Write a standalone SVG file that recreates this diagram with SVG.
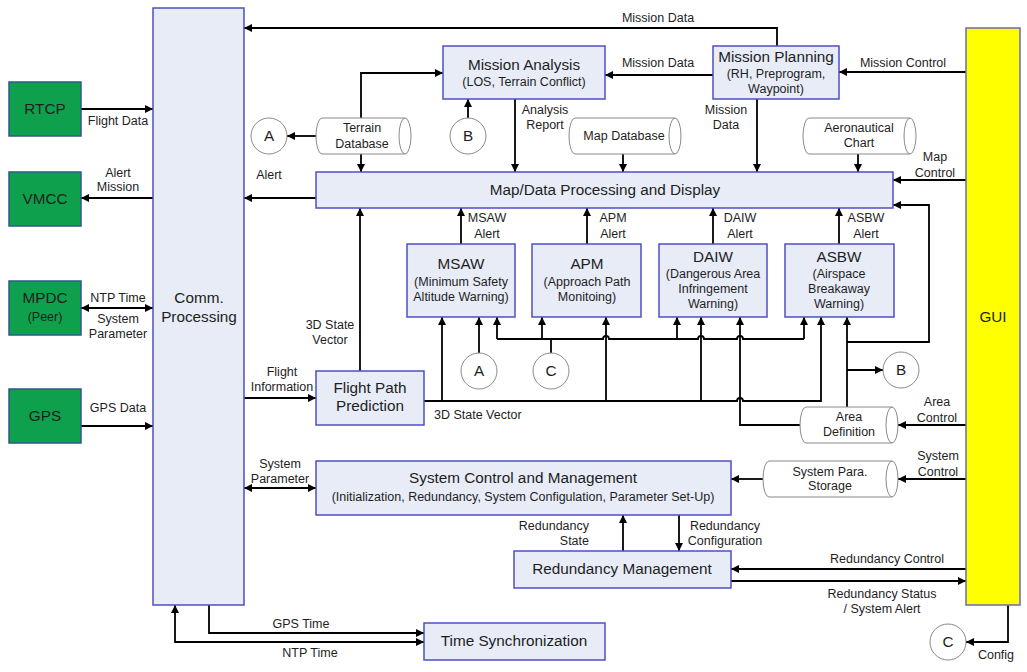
<svg xmlns="http://www.w3.org/2000/svg" width="1027" height="672" viewBox="0 0 1027 672">
<defs>
<marker id="ah" viewBox="0 0 10 10" refX="10" refY="5" markerWidth="9" markerHeight="8" orient="auto-start-reverse" markerUnits="userSpaceOnUse"><path d="M0,0 L10,5 L0,10 z" fill="#000"/></marker>
<style>
text{font-family:"Liberation Sans",Arial,sans-serif;fill:#1e1e1e;text-anchor:middle}
.lb{font-size:12.5px}
.t{font-size:15.3px}
.s{font-size:12.5px}
.box{fill:#e7ecf7;stroke:#4f4fc4;stroke-width:1.5}
.grn{fill:#0ea04c;stroke:#2d5a8c;stroke-width:1.5}
.gui{fill:#ffff00;stroke:#6b6bb0;stroke-width:1.5}
.cyl{fill:#fff;stroke:#8a8a8a;stroke-width:1}
.cir{fill:#fff;stroke:#8a8a8a;stroke-width:1}
.c path{fill:none;stroke:#000;stroke-width:1.8}
.a{marker-end:url(#ah)}
.b{marker-start:url(#ah);marker-end:url(#ah)}
</style>
</defs>
<rect width="1027" height="672" fill="#fff"/>

<g class="c" id="connectors">
<path class="a" d="M777,46 V28 H244"/>
<path class="a" d="M713,75 H605"/>
<path class="a" d="M966,72 H839"/>
<path class="a" d="M361,118 V73 H443"/>
<path class="a" d="M361,154 V172"/>
<path class="a" d="M316,136 H287"/>
<path class="a" d="M468,118 V99"/>
<path class="a" d="M515,99 V172"/>
<path class="a" d="M623,154 V172"/>
<path class="a" d="M757,99 V172"/>
<path class="a" d="M858,154 V172"/>
<path class="a" d="M966,180 H893"/>
<path class="a" d="M316,198 H244"/>
<path class="a" d="M81,109 H153"/>
<path class="a" d="M153,198 H81"/>
<path class="b" d="M81,308 H153"/>
<path class="a" d="M81,426 H153"/>
<path class="a" d="M244,398 H316"/>
<path class="a" d="M360,371 V208"/>
<path class="a" d="M461,244 V208"/>
<path class="a" d="M587,244 V208"/>
<path class="a" d="M713,244 V208"/>
<path class="a" d="M839,244 V208"/>
<path d="M497,339 H603 a3,3 0 0 1 6,0 H698 a3,3 0 0 1 6,0 H737 a3,3 0 0 1 6,0 H804"/>
<path class="a" d="M497,339 V317"/>
<path class="a" d="M542,339 V317"/>
<path class="a" d="M677,339 V317"/>
<path class="a" d="M804,339 V317"/>
<path d="M551,353 V339"/>
<path class="a" d="M479,353 V317"/>
<path class="a" d="M424,401 H737 a3,3 0 0 1 6,0 H821 V317"/>
<path class="a" d="M442,401 V317"/>
<path class="a" d="M606,401 V317"/>
<path class="a" d="M701,401 V317"/>
<path class="a" d="M800,425 H740 V317"/>
<path class="a" d="M847,407 V317"/>
<path class="a" d="M847,342 H929 V205 H893"/>
<path class="a" d="M847,370 H883"/>
<path class="a" d="M966,425 H898"/>
<path class="b" d="M244,488 H316"/>
<path class="a" d="M763,479 H731"/>
<path class="a" d="M966,479 H898"/>
<path class="a" d="M623,551 V515"/>
<path class="a" d="M679,515 V551"/>
<path class="a" d="M966,569 H731"/>
<path class="a" d="M731,581 H966"/>
<path class="a" d="M1008,605 V642 H966"/>
<path class="a" d="M209,605 V633 H424"/>
<path class="b" d="M424,642 H175 V605"/>
</g>

<g id="labels" class="lb">
<text x="658" y="22">Mission Data</text>
<text x="658" y="67">Mission Data</text>
<text x="903" y="67">Mission Control</text>
<text x="545" y="114">Analysis</text>
<text x="545" y="129">Report</text>
<text x="726" y="114">Mission</text>
<text x="726" y="129">Data</text>
<text x="935" y="161">Map</text>
<text x="935" y="177">Control</text>
<text x="269" y="179">Alert</text>
<text x="118" y="125">Flight Data</text>
<text x="118" y="177">Alert</text>
<text x="118" y="191">Mission</text>
<text x="118" y="302">NTP Time</text>
<text x="118" y="323">System</text>
<text x="118" y="338">Parameter</text>
<text x="118" y="412">GPS Data</text>
<text x="282" y="376">Flight</text>
<text x="282" y="391">Information</text>
<text x="330" y="329">3D State</text>
<text x="330" y="344">Vector</text>
<text x="487" y="222">MSAW</text>
<text x="487" y="238">Alert</text>
<text x="613" y="222">APM</text>
<text x="613" y="238">Alert</text>
<text x="740" y="222">DAIW</text>
<text x="740" y="238">Alert</text>
<text x="866" y="222">ASBW</text>
<text x="866" y="238">Alert</text>
<text x="434" y="419" style="text-anchor:start">3D State Vector</text>
<text x="937" y="406">Area</text>
<text x="937" y="422">Control</text>
<text x="280" y="468">System</text>
<text x="280" y="483">Parameter</text>
<text x="938" y="460">System</text>
<text x="938" y="476">Control</text>
<text x="589" y="530" style="text-anchor:end">Redundancy</text>
<text x="589" y="545" style="text-anchor:end">State</text>
<text x="725" y="530">Redundancy</text>
<text x="725" y="545">Configuration</text>
<text x="887" y="563">Redundancy Control</text>
<text x="882" y="598">Redundancy Status</text>
<text x="882" y="613">/ System Alert</text>
<text x="996" y="659">Config</text>
<text x="301" y="628">GPS Time</text>
<text x="310" y="657">NTP Time</text>
</g>

<g id="rtcp"><rect class="grn" x="9" y="82" width="72" height="54"/><text class="t" x="45" y="114">RTCP</text></g>
<g id="vmcc"><rect class="grn" x="9" y="172" width="72" height="54"/><text class="t" x="45" y="204">VMCC</text></g>
<g id="mpdc"><rect class="grn" x="9" y="281" width="72" height="54"/><text class="t" x="45" y="303">MPDC</text><text class="s" x="45" y="321">(Peer)</text></g>
<g id="gps"><rect class="grn" x="9" y="389" width="72" height="54"/><text class="t" x="45" y="421">GPS</text></g>

<g id="comm"><rect class="box" x="153" y="8" width="91" height="597"/><text class="t" x="199" y="303">Comm.</text><text class="t" x="199" y="322">Processing</text></g>
<g id="gui"><rect class="gui" x="966" y="28" width="54" height="577"/><text class="t" x="993" y="322">GUI</text></g>

<g id="mission-analysis"><rect class="box" x="443" y="46" width="162" height="53"/><text class="t" x="524" y="70">Mission Analysis</text><text class="s" x="524" y="86">(LOS, Terrain Conflict)</text></g>
<g id="mission-planning"><rect class="box" x="713" y="46" width="126" height="53"/><text class="t" x="776" y="62">Mission Planning</text><text class="s" x="776" y="78">(RH, Preprogram,</text><text class="s" x="776" y="93">Waypoint)</text></g>

<g id="terrain-db"><path class="cyl" d="M322,118 H405 A6,18 0 0 1 405,154 H322 A6,18 0 0 1 322,118 Z M405,118 A6,18 0 0 0 405,154"/><text class="s" x="362" y="132">Terrain</text><text class="s" x="362" y="148">Database</text></g>
<g id="map-db"><path class="cyl" d="M575,118 H675 A6,18 0 0 1 675,154 H575 A6,18 0 0 1 575,118 Z M675,118 A6,18 0 0 0 675,154"/><text class="s" x="624" y="140">Map Database</text></g>
<g id="aero-chart"><path class="cyl" d="M809,118 H910 A6,18 0 0 1 910,154 H809 A6,18 0 0 1 809,118 Z M910,118 A6,18 0 0 0 910,154"/><text class="s" x="859" y="132">Aeronautical</text><text class="s" x="859" y="147">Chart</text></g>

<g id="map-data"><rect class="box" x="316" y="172" width="577" height="36"/><text class="t" x="605" y="195">Map/Data Processing and Display</text></g>

<g id="msaw"><rect class="box" x="407" y="244" width="108" height="73"/><text class="t" x="461" y="269">MSAW</text><text class="s" x="461" y="286">(Minimum Safety</text><text class="s" x="461" y="301">Altitude Warning)</text></g>
<g id="apm"><rect class="box" x="532" y="244" width="109" height="73"/><text class="t" x="587" y="269">APM</text><text class="s" x="587" y="286">(Approach Path</text><text class="s" x="587" y="301">Monitoing)</text></g>
<g id="daiw"><rect class="box" x="659" y="244" width="108" height="73"/><text class="t" x="713" y="262">DAIW</text><text class="s" x="713" y="278">(Dangerous Area</text><text class="s" x="713" y="293">Infringement</text><text class="s" x="713" y="308">Warning)</text></g>
<g id="asbw"><rect class="box" x="785" y="244" width="109" height="73"/><text class="t" x="839" y="262">ASBW</text><text class="s" x="839" y="278">(Airspace</text><text class="s" x="839" y="293">Breakaway</text><text class="s" x="839" y="308">Warning)</text></g>

<g id="fpp"><rect class="box" x="316" y="371" width="108" height="54"/><text class="t" x="370" y="393">Flight Path</text><text class="t" x="370" y="411">Prediction</text></g>

<g id="area-def"><path class="cyl" d="M806,407 H892 A6,18 0 0 1 892,443 H806 A6,18 0 0 1 806,407 Z M892,407 A6,18 0 0 0 892,443"/><text class="s" x="849" y="421">Area</text><text class="s" x="849" y="436">Definition</text></g>

<g id="scm"><rect class="box" x="316" y="461" width="415" height="54"/><text class="t" x="523" y="483">System Control and Management</text><text class="s" x="523" y="501">(Initialization, Redundancy, System Configulation, Parameter Set-Up)</text></g>
<g id="sys-storage"><path class="cyl" d="M769,461 H892 A6,18 0 0 1 892,497 H769 A6,18 0 0 1 769,461 Z M892,461 A6,18 0 0 0 892,497"/><text class="s" x="830" y="476">System Para.</text><text class="s" x="830" y="490">Storage</text></g>

<g id="redundancy"><rect class="box" x="514" y="551" width="217" height="37"/><text class="t" x="622" y="574">Redundancy Management</text></g>
<g id="time-sync"><rect class="box" x="424" y="623" width="181" height="37"/><text class="t" x="514" y="646">Time Synchronization</text></g>

<g id="circle-a1"><circle class="cir" cx="269" cy="136" r="18"/><text class="t" x="269" y="141">A</text></g>
<g id="circle-b1"><circle class="cir" cx="468" cy="136" r="18"/><text class="t" x="468" y="141">B</text></g>
<g id="circle-a2"><circle class="cir" cx="479" cy="371" r="18"/><text class="t" x="479" y="376">A</text></g>
<g id="circle-c1"><circle class="cir" cx="551" cy="371" r="18"/><text class="t" x="551" y="376">C</text></g>
<g id="circle-b2"><circle class="cir" cx="901" cy="370" r="18"/><text class="t" x="901" y="375">B</text></g>
<g id="circle-c2"><circle class="cir" cx="948" cy="642" r="18"/><text class="t" x="948" y="647">C</text></g>
</svg>
